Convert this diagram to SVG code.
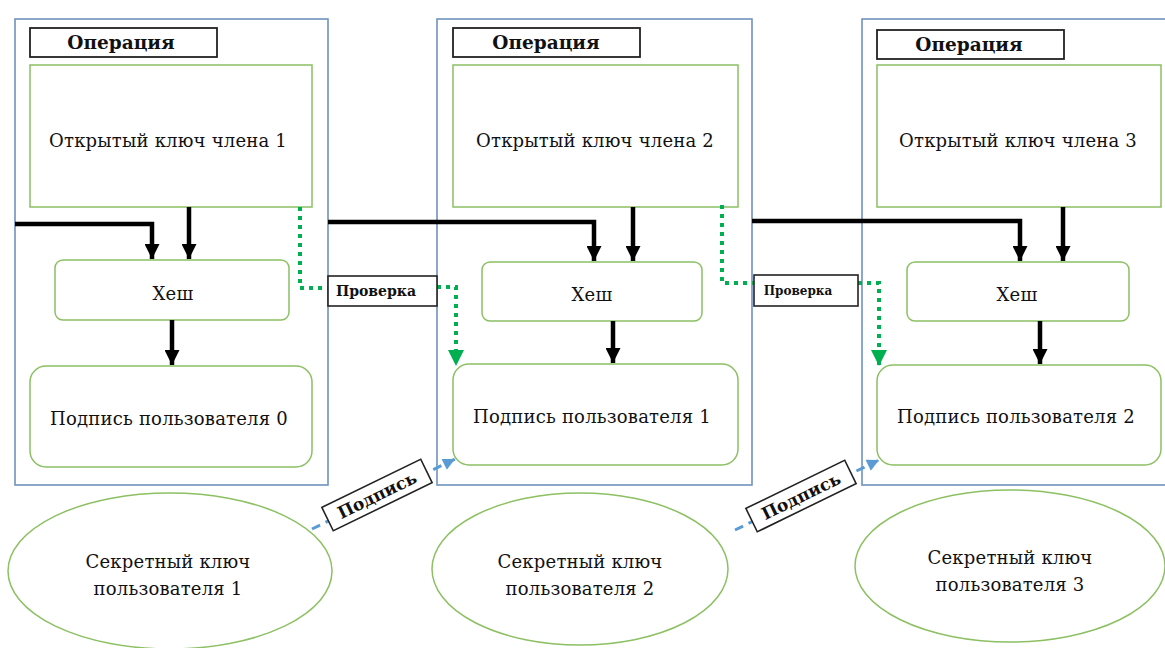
<svg xmlns="http://www.w3.org/2000/svg" width="1165" height="648" viewBox="0 0 1165 648">
<defs>
<marker id="ab" viewBox="0 0 10 10" refX="10" refY="5" markerWidth="15" markerHeight="15" markerUnits="userSpaceOnUse" orient="auto">
<path d="M0,0 L10,5 L0,10 z" fill="#000"/>
</marker>
<marker id="ag" viewBox="0 0 10 10" refX="10" refY="5" markerWidth="16" markerHeight="16" markerUnits="userSpaceOnUse" orient="auto">
<path d="M0,0 L10,5 L0,10 z" fill="#00b050"/>
</marker>
<marker id="au" viewBox="0 0 10 10" refX="10" refY="5" markerWidth="14" markerHeight="12" markerUnits="userSpaceOnUse" orient="auto">
<path d="M0,0 L10,5 L0,10 z" fill="#5b9bd5"/>
</marker>
</defs>
<style>
.panel{fill:#fff;stroke:#6f93bf;stroke-width:1.6}
.op{fill:#fff;stroke:#222;stroke-width:1.8}
.gbox{fill:#fff;stroke:#8cc063;stroke-width:1.5}
.ell{fill:#fff;stroke:#8cc063;stroke-width:1.5}
.lab{fill:#fff;stroke:#222;stroke-width:1.6}
.t,.b,.pv,.pv2,.pd{font-family:'DejaVu Serif','Liberation Serif',serif;fill:#111;text-anchor:middle}
.t{font-size:18px;letter-spacing:0.2px}
.b{font-size:18.5px;font-weight:bold}
.pv{font-size:14px;font-weight:bold}
.pv2{font-size:12px;font-weight:bold}
.pd{font-size:17px;font-weight:bold}
.blk{fill:none;stroke:#000;stroke-width:4.5}
.grn{fill:none;stroke:#00b050;stroke-width:4;stroke-dasharray:4 5}
.blu{fill:none;stroke:#5b9bd5;stroke-width:3;stroke-dasharray:9 6}
</style>

<g id="panel1">
<rect class="panel" x="15" y="19" width="313" height="466"/>
<rect class="op" x="30" y="28" width="187" height="29"/>
<text class="b" x="121" y="49">Операция</text>
<rect class="gbox" x="30" y="65" width="282" height="142"/>
<text class="t" x="168" y="147">Открытый ключ члена 1</text>
<rect class="gbox" x="55" y="260" width="234" height="60" rx="8"/>
<text class="t" x="173" y="300">Хеш</text>
<rect class="gbox" x="30" y="366" width="282" height="101" rx="16"/>
<text class="t" x="169" y="425">Подпись пользователя 0</text>
</g>

<g id="panel2">
<rect class="panel" x="437" y="19" width="315" height="466"/>
<rect class="op" x="453" y="28" width="187" height="29"/>
<text class="b" x="546" y="49">Операция</text>
<rect class="gbox" x="453" y="65" width="285" height="142"/>
<text class="t" x="595" y="147">Открытый ключ члена 2</text>
<rect class="gbox" x="482" y="262" width="220" height="59" rx="8"/>
<text class="t" x="592" y="301">Хеш</text>
<rect class="gbox" x="453" y="364" width="285" height="101" rx="16"/>
<text class="t" x="592" y="423">Подпись пользователя 1</text>
</g>

<g id="panel3">
<rect class="panel" x="862" y="19" width="310" height="466"/>
<rect class="op" x="877" y="30" width="187" height="29"/>
<text class="b" x="969" y="51">Операция</text>
<rect class="gbox" x="877" y="65" width="284" height="142"/>
<text class="t" x="1018" y="147">Открытый ключ члена 3</text>
<rect class="gbox" x="907" y="262" width="222" height="59" rx="8"/>
<text class="t" x="1017" y="301">Хеш</text>
<rect class="gbox" x="877" y="365" width="284" height="100" rx="16"/>
<text class="t" x="1016" y="423">Подпись пользователя 2</text>
</g>

<g id="key1">
<ellipse class="ell" cx="170" cy="571" rx="162" ry="78"/>
<text class="t" x="168" y="568">Секретный ключ</text>
<text class="t" x="168" y="595">пользователя 1</text>
</g>
<g id="key2">
<ellipse class="ell" cx="580" cy="569" rx="148" ry="76"/>
<text class="t" x="580" y="568">Секретный ключ</text>
<text class="t" x="580" y="595">пользователя 2</text>
</g>
<g id="key3">
<ellipse class="ell" cx="1010" cy="566" rx="155" ry="76"/>
<text class="t" x="1010" y="564">Секретный ключ</text>
<text class="t" x="1010" y="591">пользователя 3</text>
</g>

<g id="connectors">
<polyline class="blk" points="15,224 152,224 152,259" marker-end="url(#ab)"/>
<line class="blk" x1="189" y1="207" x2="189" y2="259" marker-end="url(#ab)"/>
<line class="blk" x1="172" y1="320" x2="172" y2="365" marker-end="url(#ab)"/>

<polyline class="blk" points="328,222 594,222 594,261" marker-end="url(#ab)"/>
<line class="blk" x1="633" y1="207" x2="633" y2="261" marker-end="url(#ab)"/>
<line class="blk" x1="613" y1="321" x2="613" y2="363" marker-end="url(#ab)"/>

<polyline class="blk" points="752,221 1020,221 1020,261" marker-end="url(#ab)"/>
<line class="blk" x1="1063" y1="207" x2="1063" y2="261" marker-end="url(#ab)"/>
<line class="blk" x1="1040" y1="321" x2="1040" y2="364" marker-end="url(#ab)"/>

<polyline class="grn" points="300,207 300,288 328,288"/>
<polyline class="grn" points="437,287 456,287 456,366" marker-end="url(#ag)"/>
<polyline class="grn" points="722,205 722,283 754,283"/>
<polyline class="grn" points="858,283 879,283 879,366" marker-end="url(#ag)"/>

<line class="blu" x1="312" y1="529" x2="455" y2="459" marker-end="url(#au)"/>
<line class="blu" x1="735" y1="530" x2="879" y2="460" marker-end="url(#au)"/>

<g id="check1">
<rect class="lab" x="328" y="276" width="109" height="30"/>
<text class="pv" x="376" y="296">Проверка</text>
</g>
<g id="check2">
<rect class="lab" x="754" y="275" width="104" height="31"/>
<text class="pv2" x="798" y="295">Проверка</text>
</g>
<g id="sign1" transform="translate(377,495) rotate(-26)">
<rect class="lab" x="-55" y="-13" width="110" height="26"/>
<text class="pd" x="0" y="6">Подпись</text>
</g>
<g id="sign2" transform="translate(801,496) rotate(-26)">
<rect class="lab" x="-55" y="-13" width="110" height="26"/>
<text class="pd" x="0" y="6">Подпись</text>
</g>
</g>
</svg>
